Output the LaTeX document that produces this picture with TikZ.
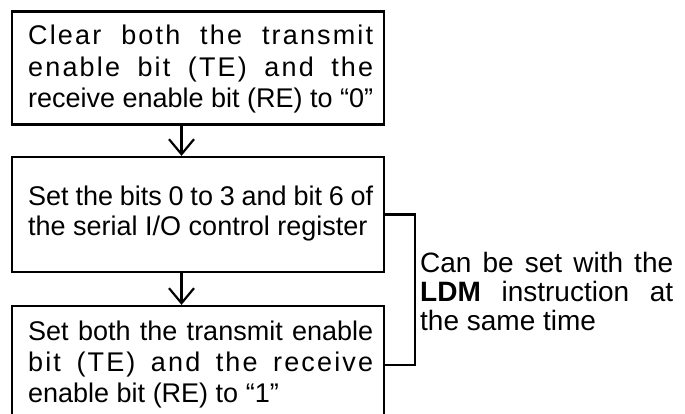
\documentclass[tikz,border=0pt]{standalone}
\usepackage{fontspec}
\setmainfont{Liberation Sans}
\usetikzlibrary{arrows.meta}
\newcommand\jline[1]{\hbox to 345pt{#1}}
\newcommand\lline[1]{\hbox to 345pt{#1\hfil}}
\newcommand\wide[1]{{\addfontfeature{LetterSpace=8}#1}}
\begin{document}
\begin{tikzpicture}[x=1pt,y=-1pt,
  box/.style={draw, line width=2.2pt, minimum width=372pt, inner sep=0pt},
  txt/.style={inner sep=0pt, anchor=base west, font=\fontsize{27}{31}\selectfont},
  link/.style={line width=2.2pt},
  arr/.style={line width=2.2pt, -{Straight Barb[length=15pt,width=25pt]}}]
\useasboundingbox (0,0) rectangle (685,414);
\clip (0,0) rectangle (685,414);
% boxes
\node[box, minimum height=113pt] (b1) at (198,68) {};
\node[box, minimum height=115pt] (b2) at (198,214.5) {};
\node[box, minimum height=118pt] (b3) at (198,365) {};
% texts
\node[txt] (t1) at (28,45) {\vtop{\baselineskip=31.5pt
  \jline{\wide{Clear both the transmit}}
  \jline{\wide{enable bit (TE) and the}}
  \lline{receive enable bit (RE) to “0”}}};
\node[txt] (t2) at (28,205) {\vtop{\baselineskip=31pt
  \jline{Set the bits 0 to 3 and bit 6 of}
  \lline{the serial I/O control register}}};
\node[txt] (t3) at (28,340) {\vtop{\baselineskip=31pt
  \jline{Set both the transmit enable}
  \jline{\wide{bit (TE) and the receive}}
  \lline{enable bit (RE) to “1”}}};
\node[txt, font=\fontsize{28}{29}\selectfont] (note) at (420,272) {\vtop{\baselineskip=29pt
  \hbox to 253pt{Can be set with the}
  \hbox to 253pt{\textbf{LDM} instruction at}
  \hbox to 253pt{the same time\hfil}}};
% arrows
\coordinate (ax) at (181.5,0);
\draw[arr] (ax |- b1.south) -- (ax |- b2.north);
\draw[arr] (ax |- b2.south) -- (ax |- b3.north);
% bracket
\draw[link] (b2.east) -- ++(30,0) |- (b3.east);
\end{tikzpicture}
\end{document}
